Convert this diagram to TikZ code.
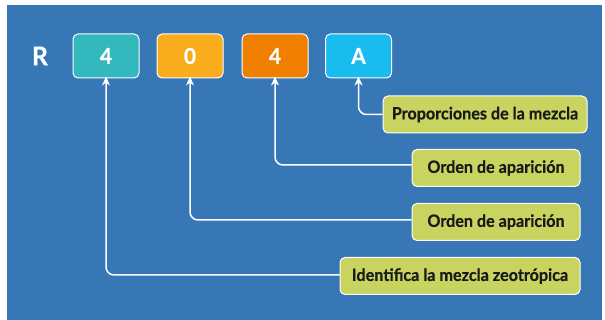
\documentclass[tikz,border=0pt]{standalone}
\usepackage{fontspec}
\setmainfont[FakeStretch=0.95, BoldFeatures={FakeBold=0.5}]{Lato}
\usetikzlibrary{arrows.meta}
\definecolor{bg}{HTML}{3777B6}
\definecolor{cteal}{HTML}{33B8BE}
\definecolor{cyellow}{HTML}{F9AC1C}
\definecolor{corange}{HTML}{F07F00}
\definecolor{clblue}{HTML}{19BCEE}
\definecolor{cgreen}{HTML}{C8D45F}
\definecolor{ctext}{HTML}{1A1A1A}
\tikzset{
  code/.style={draw=white, line width=1pt, rounded corners=5pt, minimum width=66pt, minimum height=44pt, inner sep=0pt, text=white, font=\bfseries\fontsize{22}{24}\selectfont},
  label/.style={draw=white, line width=1pt, fill=cgreen, rounded corners=5pt, minimum height=37pt, inner sep=0pt, text=ctext, font=\bfseries\fontsize{17}{20}\selectfont},
  conn/.style={draw=white, line width=1.5pt, rounded corners=8pt, -{Stealth[length=9pt,width=8pt]}}
}
\begin{document}
\begin{tikzpicture}[x=1pt,y=-1pt]
\useasboundingbox (0,0) rectangle (605,320);
\fill[bg] (7,5) rectangle (602,320);
\node[text=white, font=\bfseries\fontsize{26}{28}\selectfont] (r) at (40,56) {R};
\node[code, fill=cteal] (c1) at (106,56) {4};
\node[code, fill=cyellow] (c2) at (190,56) {0};
\node[code, fill=corange] (c3) at (275,56) {4};
\node[code, fill=clblue] (c4) at (358.5,56) {A};
\node[label, minimum width=204pt] (l1) at (485,114.5) {Proporciones de la mezcla};
\node[label, minimum width=168pt] (l2) at (496,168) {Orden de aparición};
\node[label, minimum width=168pt] (l3) at (496,222) {Orden de aparición};
\node[label, minimum width=240pt] (l4) at (460,276) {Identifica la mezcla zeotrópica};
\draw[conn] (l1.west) -| ([yshift=2pt]c4.south);
\draw[conn] ([yshift=3pt]l2.west) -| ([yshift=2pt]c3.south);
\draw[conn] ([yshift=2pt]l3.west) -| ([yshift=2pt]c2.south);
\draw[conn] ([yshift=1pt]l4.west) -| ([yshift=2pt]c1.south);
\end{tikzpicture}
\end{document}
